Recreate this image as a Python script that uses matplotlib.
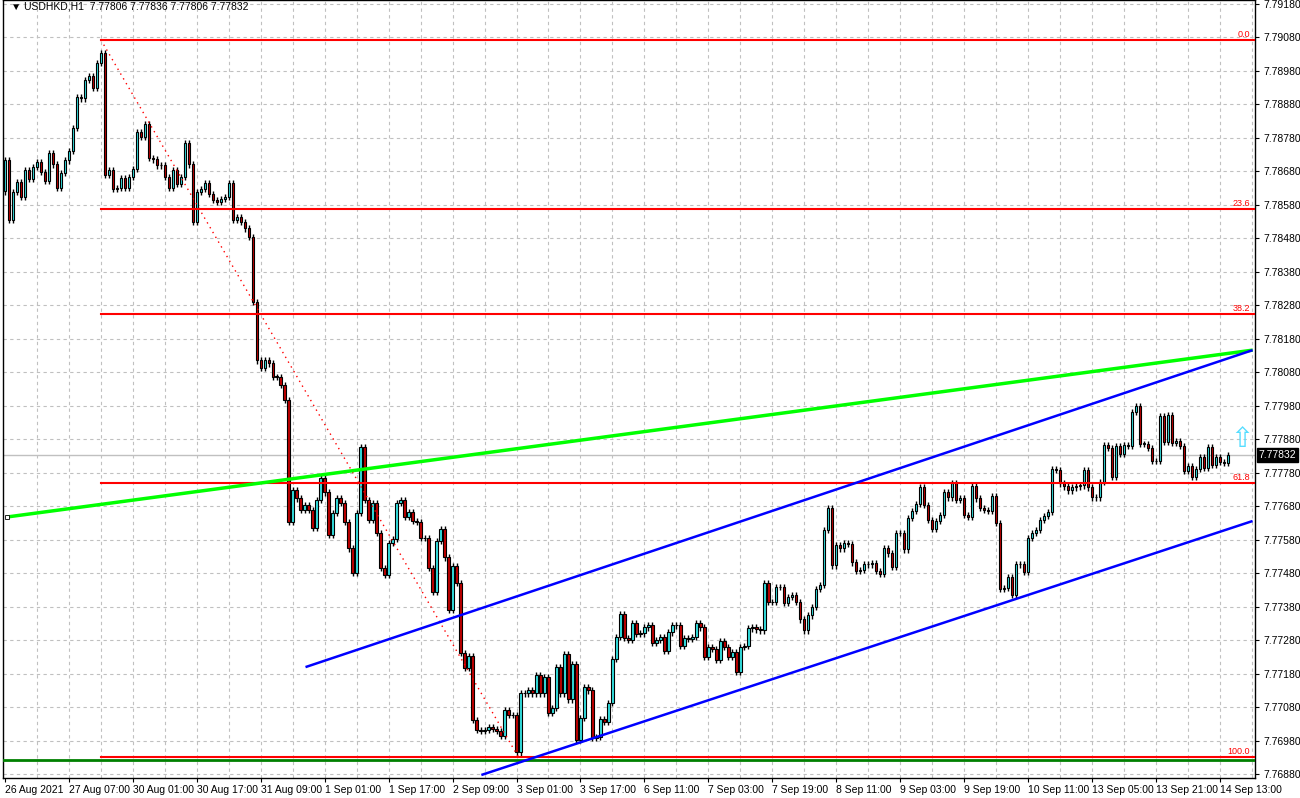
import matplotlib
matplotlib.use("Agg")
import matplotlib.pyplot as plt
import numpy as np

plt.rcParams['font.family'] = ['Liberation Sans', 'DejaVu Sans']

# close prices in points (1e-5), one per hourly bar
closes_pts = [
778713,778534,778618,778648,778603,778684,778657,778693,778707,778678,
778651,778734,778701,778630,778675,778713,778740,778809,778901,778898,
778952,778964,778928,779003,779033,778669,778684,778627,778630,778660,
778630,778663,778687,778797,778782,778821,778719,778716,778698,778698,
778663,778630,778684,778642,778663,778764,778701,778528,778618,778627,
778645,778612,778594,778588,778597,778603,778645,778534,778543,778528,
778510,778484,
778290,778116,778093,778116,778107,778066,778066,778042,777997,777633,
777728,777704,777669,777684,777669,777615,777699,777764,777722,777594,
777660,777704,777690,777633,777555,777481,777660,777857,777699,777639,
777690,777600,777496,777475,777570,777582,777690,777699,777648,777663,
777636,777633,777585,777585,777496,777424,777576,777612,777528,777370,
777501,777451,
777242,777197,777233,777042,777012,777009,777012,777021,777015,777009,
776994,777072,777057,777057,776946,777122,777122,777131,777122,777176,
777122,777170,777063,777078,777200,777122,777239,777104,777209,776982,
777048,777140,777131,776988,776991,777045,777036,777093,777224,777290,
777358,777287,777281,777331,777299,777301,777319,777325,777272,777281,
777290,777248,777304,777325,777325,777263,777287,777284,777290,777331,
777319,777230,777260,777254,777221,777278,777260,777230,777245,777185,
777260,
777263,777316,777319,777313,777310,777451,777394,777394,777439,777439,
777391,777409,777415,777394,777343,777310,777355,777379,777433,777445,
777609,777675,777504,777564,777555,777570,777567,
777513,777487,777490,777507,777507,777510,777487,777478,777555,777540,
777499,777600,777600,777552,777645,777666,777687,777737,777684,777639,
777612,777636,777654,777722,777707,777749,777699,777704,777654,777648,
777740,777704,777675,777669,777666,777710,777630,777433,777436,777469,
777415,777507,777507,777484,777585,777600,777609,777639,777651,777663,
777791,777788,777749,777740,777728,777737,777740,777743,777788,777737,
777707,777707,777752,777863,777854,777767,777860,777836,777863,777860,
777961,777979,777866,777866,777854,777815,777815,777949,777872,777952,
777869,777875,777860,777785,777800,777767,777791,777827,777794,777857,
777803,777827,777812,777809,777832,
]
wick_pts = 10
first_open_pts = 778620

xtick_labels = ["26 Aug 2021","27 Aug 07:00","30 Aug 01:00","30 Aug 17:00","31 Aug 09:00",
                "1 Sep 01:00","1 Sep 17:00","2 Sep 09:00","3 Sep 01:00","3 Sep 17:00",
                "6 Sep 11:00","7 Sep 03:00","7 Sep 19:00","8 Sep 11:00","9 Sep 03:00",
                "9 Sep 19:00","10 Sep 11:00","13 Sep 05:00","13 Sep 21:00","14 Sep 13:00"]

fib_ratios = [0.0, 23.6, 38.2, 61.8, 100.0]
fib_high = 7.79072
fib_low = 7.76931
fib_start_bar = 24
fib_end_bar = 128.5

green_line = [(0.5, 7.77648), (312.2, 7.78146)]
blue_upper = [(75.2, 7.77200), (312.2, 7.78146)]
blue_lower = [(119.2, 7.76878), (312.2, 7.77636)]
support_level = 7.76922
last_price = 7.77832

close = np.array(closes_pts) / 1e5
opens = np.concatenate([[first_open_pts / 1e5], close[:-1]])
high = np.maximum(opens, close) + wick_pts / 1e5
low = np.minimum(opens, close) - wick_pts / 1e5
n = len(close)
idx = np.arange(n)

fig = plt.figure(figsize=(13, 7.98), dpi=100)
ax = fig.add_axes([3/1300, 20/798, 1252/1300, 778/798])
ax.set_xlim(-0.5, 312.8)
ax.set_ylim(7.76869, 7.79191)

yt = np.round(np.arange(7.7688, 7.7919, 0.001), 4)
for y in yt:
    ax.axhline(y, color="#c0c0c0", ls=(0, (3, 3)), lw=0.8, zorder=0)
for xv in range(8, n + 8, 8):
    ax.axvline(xv, color="#c0c0c0", ls=(0, (3, 3)), lw=0.8, zorder=0)

ax.axhline(last_price, color="#c0c0c0", lw=1.0, zorder=1)

up = close >= opens
ax.vlines(idx, low, high, color="black", lw=1.0, zorder=3)
bottoms = np.minimum(opens, close)
heights = np.maximum(np.abs(close - opens), 0.000015)
ax.bar(idx[up], heights[up], 0.62, bottom=bottoms[up], color="#33e0e0",
       edgecolor="black", lw=0.8, zorder=4)
ax.bar(idx[~up], heights[~up], 0.62, bottom=bottoms[~up], color="#c00000",
       edgecolor="black", lw=0.8, zorder=4)

for r in fib_ratios:
    lvl = fib_high - (fib_high - fib_low) * r / 100
    ax.plot([fib_start_bar, 312.8], [lvl, lvl], color="#ff0000", lw=1.5, zorder=5)
    ax.text(311.5, lvl + 0.00004, f"{r:.1f}", color="#ff0000", fontsize=6.5,
            ha="right", va="bottom", zorder=6)
ax.plot([fib_start_bar, fib_end_bar], [fib_high, fib_low], color="#ff0000",
        ls=(0, (1, 3)), lw=1.0, zorder=5)

ax.axhline(support_level, color="#008000", lw=2.0, zorder=5)
for (p, c, w) in [(green_line, "#00ff00", 2.5), (blue_upper, "#0000ff", 1.8), (blue_lower, "#0000ff", 1.8)]:
    ax.plot([p[0][0], p[1][0]], [p[0][1], p[1][1]], color=c, lw=w, zorder=6,
            solid_capstyle="butt")
ax.plot([green_line[0][0]], [green_line[0][1]], marker="s", ms=3, mfc="white",
        mec="black", mew=0.6, zorder=7)

ax.text(309.5, 7.77880, "⇧", color="#55ddff", fontsize=20, ha="center", va="center",
        zorder=7, family="DejaVu Sans")

ax.text(0.006, 0.9975, "▼ USDHKD,H1  7.77806 7.77836 7.77806 7.77832", transform=ax.transAxes,
        fontsize=7.5, va="top", ha="left", color="black", family=["Liberation Sans", "DejaVu Sans"])

ax.yaxis.tick_right()
ax.set_yticks(yt)
ax.set_yticklabels([f"{v:.5f}" for v in yt], fontsize=7.5)
ax.tick_params(axis="y", length=3, pad=3)
ax.set_xticks(np.arange(0, 16 * len(xtick_labels), 16))
ax.set_xticklabels(xtick_labels, fontsize=7.5, ha="left")
ax.tick_params(axis="x", length=3, pad=2)
for s in ax.spines.values():
    s.set_color("black")
    s.set_linewidth(1)

ax.text(1.003, last_price, "7.77832", transform=ax.get_yaxis_transform(), fontsize=7.5,
        color="white", ha="left", va="center", zorder=10, clip_on=False,
        bbox=dict(boxstyle="square,pad=0.2", fc="black", ec="black"))

fig.savefig("out.png", dpi=100)
